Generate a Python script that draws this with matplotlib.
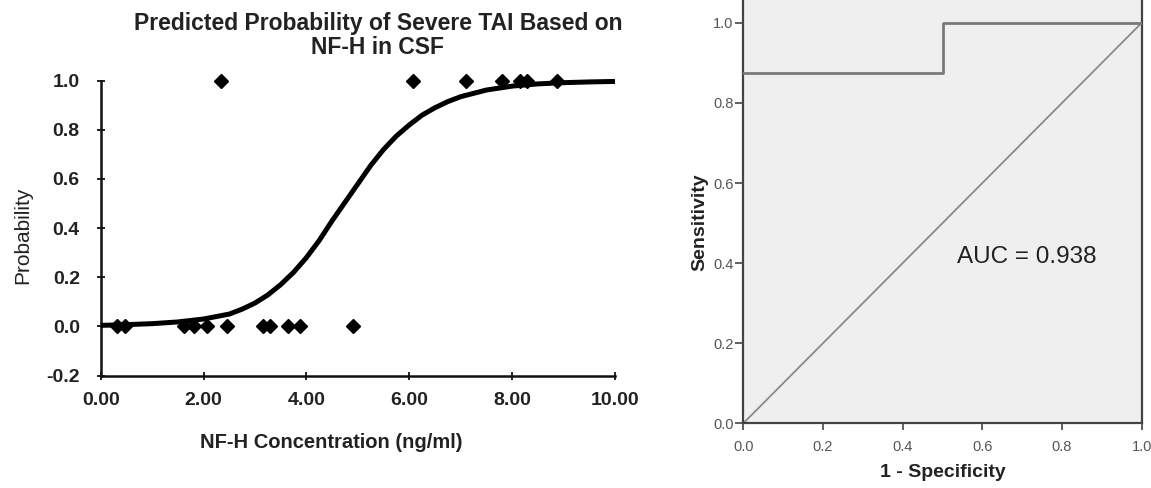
import matplotlib
matplotlib.use("Agg")
import matplotlib.pyplot as plt

plt.rcParams['font.family'] = ['Liberation Sans', 'DejaVu Sans']

# ---- Left panel data ----
nfh_severe = [2.34, 6.08, 7.11, 7.81, 8.16, 8.29, 8.87]
nfh_not_severe = [0.32, 0.48, 1.61, 1.82, 2.07, 2.45, 3.16, 3.29, 3.65, 3.88, 4.91]
outcome_severe = [1.0] * len(nfh_severe)
outcome_not_severe = [0.0] * len(nfh_not_severe)

curve_x = [0, 0.5, 1.0, 1.5, 2.0, 2.5, 2.75, 3.0, 3.25, 3.5, 3.75, 4.0, 4.25,
           4.5, 4.75, 5.0, 5.25, 5.5, 5.75, 6.0, 6.25, 6.5, 6.75, 7.0, 7.5,
           8.0, 8.5, 9.0, 9.5, 10.0]
curve_p = [0.004, 0.007, 0.011, 0.018, 0.030, 0.050, 0.070, 0.095, 0.128,
           0.170, 0.220, 0.280, 0.350, 0.430, 0.505, 0.580, 0.655, 0.720,
           0.775, 0.820, 0.860, 0.890, 0.915, 0.935, 0.962, 0.978, 0.987,
           0.992, 0.995, 0.997]

left_xticks = [0, 2, 4, 6, 8, 10]
left_xticklabels = ['0.00', '2.00', '4.00', '6.00', '8.00', '10.00']
left_yticks = [-0.2, 0.0, 0.2, 0.4, 0.6, 0.8, 1.0]
left_yticklabels = ['-0.2', '0.0', '0.2', '0.4', '0.6', '0.8', '1.0']

# ---- Right panel data (ROC) ----
roc_fpr = [0.0, 0.5, 0.5, 1.0]
roc_tpr = [0.875, 0.875, 1.0, 1.0]
ref_x = [0.0, 1.0]
ref_y = [0.0, 1.0]
auc_text = 'AUC = 0.938'
roc_ticks = [0.0, 0.2, 0.4, 0.6, 0.8, 1.0]
roc_ticklabels = ['0.0', '0.2', '0.4', '0.6', '0.8', '1.0']

W, H = 1151, 488
fig = plt.figure(figsize=(W / 100, H / 100), dpi=100)
fig.patch.set_facecolor('white')

# ================= Left panel =================
axL = fig.add_axes([100.7 / W, 1 - 375.5 / H, 514.3 / W, 294.8 / H])
axL.set_xlim(0, 10)
axL.set_ylim(-0.2, 1.0)
axL.plot(curve_x, curve_p, color='black', lw=3.6, solid_capstyle='butt',
         solid_joinstyle='round', clip_on=False, zorder=3)
axL.plot(nfh_severe, outcome_severe, linestyle='none', marker='D', ms=6.8,
         color='black', clip_on=False, zorder=4)
axL.plot(nfh_not_severe, outcome_not_severe, linestyle='none', marker='D',
         ms=6.8, color='black', clip_on=False, zorder=4)

for s in ['top', 'right']:
    axL.spines[s].set_visible(False)
for s in ['left', 'bottom']:
    axL.spines[s].set_linewidth(1.8)
    axL.spines[s].set_color('#111111')

axL.set_xticks(left_xticks)
axL.set_xticklabels(left_xticklabels)
axL.set_yticks(left_yticks)
axL.set_yticklabels(left_yticklabels)
axL.tick_params(axis='both', direction='inout', length=6, width=1.3,
                color='#111111', labelsize=14, labelcolor='#222222')
axL.tick_params(axis='x', pad=9)
axL.tick_params(axis='y', pad=12)
for lab in axL.get_xticklabels() + axL.get_yticklabels():
    lab.set_fontweight('bold')

axL.set_xlabel('NF-H Concentration (ng/ml)', fontsize=14.5, fontweight='bold',
               color='#222222', va='center')
axL.xaxis.set_label_coords(0.448, -0.2256)
axL.set_ylabel('Probability', fontsize=15, color='#222222', va='center')
axL.yaxis.set_label_coords(-0.1525, 0.477)

axL.text(0.539, 1.152, 'Predicted Probability of Severe TAI Based on\nNF-H in CSF',
         transform=axL.transAxes, ha='center', va='center', fontsize=16.5,
         fontweight='bold', color='#222222', linespacing=1.05)

# ================= Right panel =================
axR = fig.add_axes([743.3 / W, 1 - 423.3 / H, 398.4 / W, 423.3 / H])
axR.set_facecolor('#efefef')
axR.set_xlim(0, 1)
axR.set_ylim(0, 1.057)
axR.plot(ref_x, ref_y, color='#8a8a8a', lw=1.3, zorder=2)
axR.plot(roc_fpr, roc_tpr, color='#7a7a7a', lw=2.0, zorder=3)

axR.spines['top'].set_visible(False)
for s in ['left', 'bottom', 'right']:
    axR.spines[s].set_linewidth(1.6)
    axR.spines[s].set_color('#444444')

axR.set_xticks(roc_ticks)
axR.set_xticklabels(roc_ticklabels)
axR.set_yticks(roc_ticks)
axR.set_yticklabels(roc_ticklabels)
axR.tick_params(axis='both', direction='out', length=5, width=1.2,
                color='#444444', labelsize=10.5, labelcolor='#555555')
axR.tick_params(axis='y', pad=1, length=6)
axR.tick_params(axis='x', pad=7)

axR.set_xlabel('1 - Specificity', fontsize=14, fontweight='bold',
               color='#222222', va='center')
axR.xaxis.set_label_coords(0.501, -0.117)
axR.set_ylabel('Sensitivity', fontsize=14, fontweight='bold',
               color='#222222', va='center')
axR.yaxis.set_label_coords(-0.1085, 0.4756)

axR.text(0.536, 0.416, auc_text, ha='left', va='center', fontsize=17.5,
         color='#222222', transform=axR.transData)

fig.savefig('out.png', dpi=100)
